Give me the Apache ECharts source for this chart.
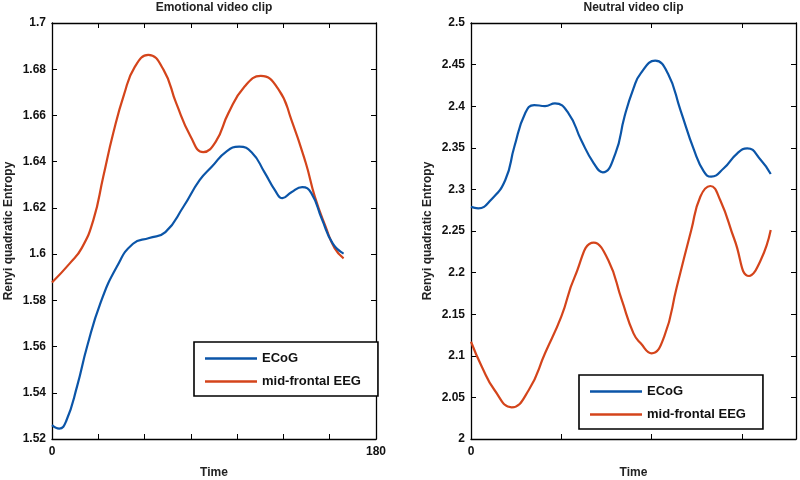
<!DOCTYPE html>
<html>
<head>
<meta charset="utf-8">
<script src="https://cdn.jsdelivr.net/npm/echarts@6/dist/echarts.min.js"></script>
<style>html,body{margin:0;padding:0;background:#fff}#c{width:800px;height:480px}</style>
</head>
<body>
<div id="c"></div>
<script>
// ---- data (time, entropy) ----
const titles = ['Emotional video clip', 'Neutral video clip'];
const seriesNames = ['ECoG', 'mid-frontal EEG'];
const yAxisName = 'Renyi quadratic Entropy';
const xAxisName = 'Time';

const emoECoG = [[0,1.526],[4,1.5245],[8,1.528],[14,1.543],[19.5,1.560],[27,1.579],[36,1.5945],[45,1.6045],[54,1.607],[63,1.6095],[73,1.6205],[82,1.632],[89,1.638],[97,1.6445],[104,1.6465],[111,1.6440],[118,1.6355],[124,1.6275],[128,1.6242],[133,1.6268],[139,1.6290],[144,1.6265],[150,1.615],[156,1.6045],[162,1.6002]];
const emoEEG = [[0,1.5877],[10,1.5961],[16.5,1.6026],[23,1.6148],[28.5,1.6336],[34,1.6523],[40,1.6690],[46,1.6810],[53.5,1.6862],[62,1.6797],[69,1.6653],[77,1.6509],[84,1.6441],[91,1.6487],[98,1.661],[107,1.6725],[116,1.6771],[126,1.6711],[133,1.6581],[141,1.6394],[146,1.6249],[152,1.6119],[157,1.6026],[162,1.5982]];
const neuECoG = [[0,2.279],[4,2.2773],[11,2.2873],[19,2.3113],[24,2.3513],[30,2.3915],[35,2.4014],[41,2.4002],[46.5,2.4035],[54,2.3915],[61,2.3594],[68,2.3314],[73,2.3205],[80,2.3434],[85,2.3874],[90,2.4215],[94,2.4395],[102,2.4547],[109,2.4395],[116,2.3954],[123.5,2.3474],[129,2.3213],[133,2.3153],[140,2.3254],[147.5,2.3434],[153,2.3494],[160.5,2.3353],[166,2.3185]];
const neuEEG = [[0,2.1169],[6,2.0869],[13,2.0589],[22.5,2.0381],[32,2.0589],[41,2.103],[50,2.147],[57.5,2.1951],[68,2.236],[76,2.2151],[83.5,2.1671],[90,2.127],[94,2.115],[100,2.103],[107,2.123],[114,2.183],[122,2.2512],[127,2.2912],[132.5,2.3041],[138,2.2873],[146,2.2392],[154,2.1959],[160.5,2.2151],[166,2.2512]];

const xRange = [0, 180];
const xIntervals = [180 / 7, 50];
const xLabelsShown = [[0, 180], [0]];
const yRanges = [[1.52, 1.7], [2, 2.5]];
const yIntervals = [0.02, 0.05];

// ---- styling ----
const BLUE = '#0b55a8', RED = '#d4441b';
const FONT = 'Liberation Sans, Arial, sans-serif';
const grids = [
  {left: 52, top: 23, width: 324, height: 416, containLabel: false, outerBoundsMode: 'none'},
  {left: 471, top: 23, width: 325, height: 416, containLabel: false, outerBoundsMode: 'none'}
];
const legendPos = [{left: 194, top: 342}, {left: 579, top: 375}];

function fmtY(v) {
  return (Math.round(v * 1000) / 1000).toString();
}

const xAxes = [], yAxes = [], series = [], legends = [], titleOpts = [];
for (let g = 0; g < 2; g++) {
  const shown = xLabelsShown[g];
  const tickStyle = {show: true, inside: true, length: 5, lineStyle: {color: '#000', width: 1}};
  const lineStyle = {show: true, onZero: false, lineStyle: {color: '#000', width: 1.3}};
  xAxes.push({
    type: 'value', gridIndex: g, position: 'bottom', min: xRange[0], max: xRange[1], interval: xIntervals[g],
    axisLine: lineStyle, axisTick: tickStyle, splitLine: {show: false},
    axisLabel: {margin: 7, color: '#111', fontFamily: FONT, fontWeight: 'bold', fontSize: 12,
      formatter: v => shown.some(s => Math.abs(s - v) < 1e-6) ? String(Math.round(v)) : ''},
    name: xAxisName, nameLocation: 'middle', nameGap: 28,
    nameTextStyle: {color: '#222', fontFamily: FONT, fontWeight: 'bold', fontSize: 12}
  });
  xAxes.push({
    type: 'value', gridIndex: g, position: 'top', min: xRange[0], max: xRange[1], interval: xIntervals[g],
    axisLine: lineStyle, axisTick: tickStyle, splitLine: {show: false}, axisLabel: {show: false}
  });
  yAxes.push({
    type: 'value', gridIndex: g, position: 'left', min: yRanges[g][0], max: yRanges[g][1], interval: yIntervals[g],
    axisLine: lineStyle, axisTick: tickStyle, splitLine: {show: false},
    axisLabel: {margin: 6, color: '#111', fontFamily: FONT, fontWeight: 'bold', fontSize: 12, formatter: fmtY},
    name: yAxisName, nameLocation: 'middle', nameGap: 37, nameRotate: 90,
    nameTextStyle: {color: '#222', fontFamily: FONT, fontWeight: 'bold', fontSize: 12}
  });
  yAxes.push({
    type: 'value', gridIndex: g, position: 'right', min: yRanges[g][0], max: yRanges[g][1], interval: yIntervals[g],
    axisLine: lineStyle, axisTick: tickStyle, splitLine: {show: false}, axisLabel: {show: false}
  });
  titleOpts.push({
    text: titles[g], left: grids[g].left + grids[g].width / 2, top: 2, padding: 0, textAlign: 'center',
    textStyle: {color: '#222', fontFamily: FONT, fontWeight: 'bold', fontSize: 12}
  });
  legends.push({
    orient: 'vertical', left: legendPos[g].left, top: legendPos[g].top,
    data: seriesNames.map(n => ({name: n, icon: 'rect'})),
    backgroundColor: '#fff', borderColor: '#000', borderWidth: 1.6, borderRadius: 0,
    padding: [9, 17, 7, 11], itemWidth: 52, itemHeight: 2.5, itemGap: 8, selectedMode: false,
    textStyle: {color: '#111', fontFamily: FONT, fontWeight: 'bold', fontSize: 13, lineHeight: 15}
  });
}

const sets = [[emoECoG, emoEEG], [neuECoG, neuEEG]];
for (let g = 0; g < 2; g++) {
  for (let s = 0; s < 2; s++) {
    series.push({
      name: seriesNames[s], type: 'line', xAxisIndex: g * 2, yAxisIndex: g * 2,
      data: sets[g][s], smooth: 0.5, symbol: 'none', showSymbol: false,
      lineStyle: {color: s === 0 ? BLUE : RED, width: 2.2}, itemStyle: {color: s === 0 ? BLUE : RED},
      z: s === 0 ? 3 : 2, animation: false
    });
  }
}

const chart = echarts.init(document.getElementById('c'), null, {renderer: 'canvas'});
chart.setOption({
  backgroundColor: '#fff', animation: false,
  title: titleOpts, grid: grids, xAxis: xAxes, yAxis: yAxes, legend: legends, series: series
});
</script>
</body>
</html>
